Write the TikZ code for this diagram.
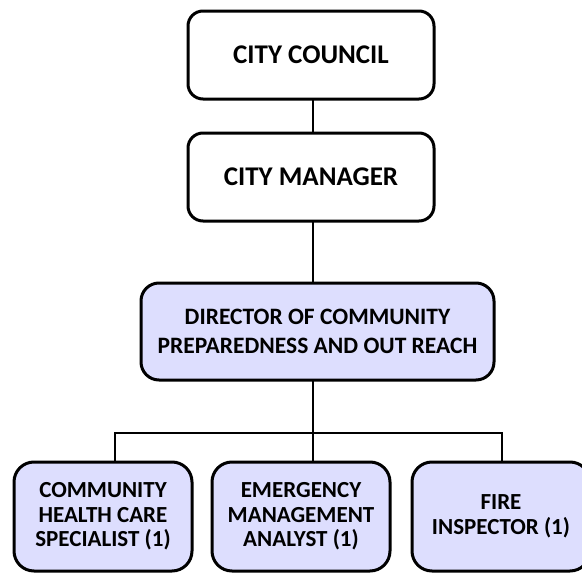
\documentclass[tikz,border=0pt]{standalone}
\usepackage{fontspec}
\setmainfont{Carlito}
\usepackage{xcolor}
\usepackage{tikz}
\usetikzlibrary{positioning}
\definecolor{boxfill}{RGB}{221, 222, 254}
\tikzset{
    topbox/.style={rectangle, rounded corners=15pt, draw=black, fill=white, line width=3pt, outer sep=0pt, inner sep=2pt, minimum width=246pt, minimum height=88pt, align=center, font=\bfseries\fontsize{27}{30}\selectfont},
    leadbox/.style={rectangle, rounded corners=18pt, draw=black, fill=boxfill, line width=3pt, outer sep=0pt, inner sep=2pt, minimum width=353pt, minimum height=97pt, align=center, font=\bfseries\fontsize{23.5}{29}\selectfont},
    staffbox/.style={rectangle, rounded corners=20pt, draw=black, fill=boxfill, line width=3pt, outer sep=0pt, inner sep=2pt, minimum width=178pt, minimum height=109pt, align=center, font=\bfseries\fontsize{23}{24.5}\selectfont},
    wire/.style={draw=black, line width=2pt}
}
\begin{document}
\begin{tikzpicture}[x=1pt, y=-1pt]
        \useasboundingbox (0,0) rectangle (582,573);
        \clip (0,0) rectangle (582,573);

        \node [topbox] (council) at (311,55) {CITY COUNCIL};

        \node [topbox, below=34pt of council] (manager) {CITY MANAGER};

        \node [leadbox, below=62pt of manager, xshift=6.5pt] (director) {DIRECTOR OF COMMUNITY\\PREPAREDNESS AND OUT REACH};

        \node [staffbox] (health) at (103,516.5) {COMMUNITY\\HEALTH CARE\\SPECIALIST (1)};

        \node [staffbox, right=20pt of health] (analyst) {EMERGENCY\\MANAGEMENT\\ANALYST (1)};

        \node [staffbox, right=22pt of analyst] (fire) {FIRE\\INSPECTOR (1)};

        % Draws
        \draw [wire] ([xshift=2pt]council.south) -- ([xshift=2pt]manager.north);
        \draw [wire] ([xshift=2pt]manager.south) -- ([xshift=-4.5pt]director.north);
        \draw [wire] ([xshift=-4.5pt]director.south) -- ++(0pt,-53pt) coordinate (bus);
        \draw [wire] ([xshift=12pt]health.north) |- (bus);
        \draw [wire] ([xshift=12pt]analyst.north) -- (bus);
        \draw [wire] ([xshift=1pt]fire.north) |- (bus);

    \end{tikzpicture}
\end{document}
